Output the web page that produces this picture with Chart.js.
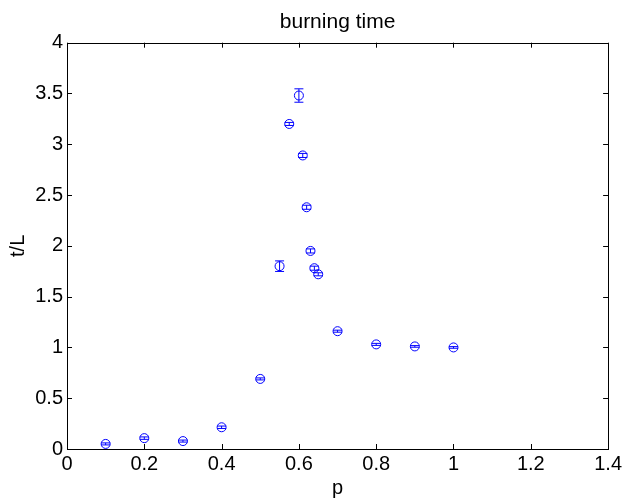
<!DOCTYPE html>
<html>
<head>
<meta charset="utf-8">
<script src="https://cdn.jsdelivr.net/npm/chart.js@4/dist/chart.umd.min.js"></script>
<style>
    html, body { margin: 0; padding: 0; background: #fff; }
    #wrap { width: 625px; height: 500px; }
</style>
</head>
<body>
<div id="wrap"><canvas id="chart"></canvas></div>
<script>
// burning time vs p, with error bars
const pValues = [0.1, 0.2, 0.3, 0.4, 0.5, 0.55, 0.575, 0.6, 0.61, 0.62, 0.63, 0.64, 0.65, 0.7, 0.8, 0.9, 1.0];
const tValues = [0.05, 0.107, 0.078, 0.214, 0.69, 1.80, 3.2, 3.48, 2.89, 2.38, 1.95, 1.78, 1.72, 1.16, 1.03, 1.01, 1.0];
const tErrors = [0.01, 0.012, 0.01, 0.012, 0.01, 0.052, 0.015, 0.066, 0.02, 0.02, 0.02, 0.02, 0.015, 0.01, 0.01, 0.008, 0.008];

const BLUE = '#0000ff';
const FONT = 'Liberation Sans, Arial, Helvetica, sans-serif';

// error bars drawn through the chart's own scales
const errorBars = {
    id: 'errorBars',
    afterDatasetsDraw(chart) {
        const ctx = chart.ctx;
        const x = chart.scales.x;
        const y = chart.scales.y;
        ctx.save();
        ctx.strokeStyle = BLUE;
        ctx.lineWidth = 1;
        pValues.forEach((p, i) => {
            const px = x.getPixelForValue(p);
            const top = y.getPixelForValue(tValues[i] + tErrors[i]);
            const bot = y.getPixelForValue(tValues[i] - tErrors[i]);
            ctx.beginPath();
            ctx.moveTo(px, top);
            ctx.lineTo(px, bot);
            ctx.moveTo(px - 4.5, top);
            ctx.lineTo(px + 4.5, top);
            ctx.moveTo(px - 4.5, bot);
            ctx.lineTo(px + 4.5, bot);
            ctx.stroke();
        });
        ctx.restore();
    }
};

// matlab style box with inward ticks
const boxTicks = {
    id: 'boxTicks',
    afterDraw(chart) {
        const ctx = chart.ctx;
        const a = chart.chartArea;
        const x = chart.scales.x;
        const y = chart.scales.y;
        const len = 5;
        ctx.save();
        ctx.strokeStyle = '#000';
        ctx.lineWidth = 1;
        ctx.strokeRect(Math.round(a.left) + 0.5, Math.round(a.top) + 0.5,
            Math.round(a.right - a.left), Math.round(a.bottom - a.top));
        ctx.beginPath();
        x.ticks.forEach(t => {
            const px = Math.round(x.getPixelForValue(t.value)) + 0.5;
            ctx.moveTo(px, a.bottom);
            ctx.lineTo(px, a.bottom - len);
            ctx.moveTo(px, a.top);
            ctx.lineTo(px, a.top + len);
        });
        y.ticks.forEach(t => {
            const py = Math.round(y.getPixelForValue(t.value)) + 0.5;
            ctx.moveTo(a.left, py);
            ctx.lineTo(a.left + len, py);
            ctx.moveTo(a.right, py);
            ctx.lineTo(a.right - len, py);
        });
        ctx.stroke();
        ctx.restore();
    }
};

const tickLabel = v => String(Math.round(v * 10) / 10);

new Chart(document.getElementById('chart'), {
    type: 'scatter',
    data: {
        datasets: [{
            label: 'burning time',
            data: pValues.map((p, i) => ({ x: p, y: tValues[i] })),
            pointStyle: 'circle',
            pointRadius: 4.5,
            pointBorderWidth: 1,
            pointBorderColor: BLUE,
            pointBackgroundColor: 'rgba(0,0,0,0)',
            showLine: false
        }]
    },
    options: {
        responsive: true,
        maintainAspectRatio: false,
        animation: false,
        layout: { padding: { left: 0, right: 16, top: 0, bottom: 0 } },
        plugins: {
            legend: { display: false },
            tooltip: { enabled: false },
            title: {
                display: true,
                fullSize: false,
                text: 'burning time',
                color: '#000',
                font: { family: FONT, size: 21, weight: 'normal' },
                padding: { top: 10, bottom: 7.5 }
            }
        },
        scales: {
            x: {
                type: 'linear',
                min: 0,
                max: 1.4,
                ticks: {
                    stepSize: 0.2,
                    color: '#000',
                    font: { family: FONT, size: 20 },
                    padding: 3,
                    maxRotation: 0,
                    callback: tickLabel
                },
                grid: { display: false, drawTicks: false },
                border: { display: false },
                title: {
                    display: true,
                    text: 'p',
                    color: '#000',
                    font: { family: FONT, size: 20 },
                    padding: 0
                },
                afterFit(scale) { scale.height = 51; }
            },
            y: {
                type: 'linear',
                min: 0,
                max: 4,
                ticks: {
                    stepSize: 0.5,
                    color: '#000',
                    font: { family: FONT, size: 20 },
                    padding: 4,
                    callback: tickLabel
                },
                grid: { display: false, drawTicks: false },
                border: { display: false },
                title: {
                    display: true,
                    text: 't/L',
                    color: '#000',
                    font: { family: FONT, size: 20 },
                    padding: { top: 6, bottom: 0 }
                },
                afterFit(scale) { scale.width = 67; }
            }
        }
    },
    plugins: [errorBars, boxTicks]
});
</script>
</body>
</html>
